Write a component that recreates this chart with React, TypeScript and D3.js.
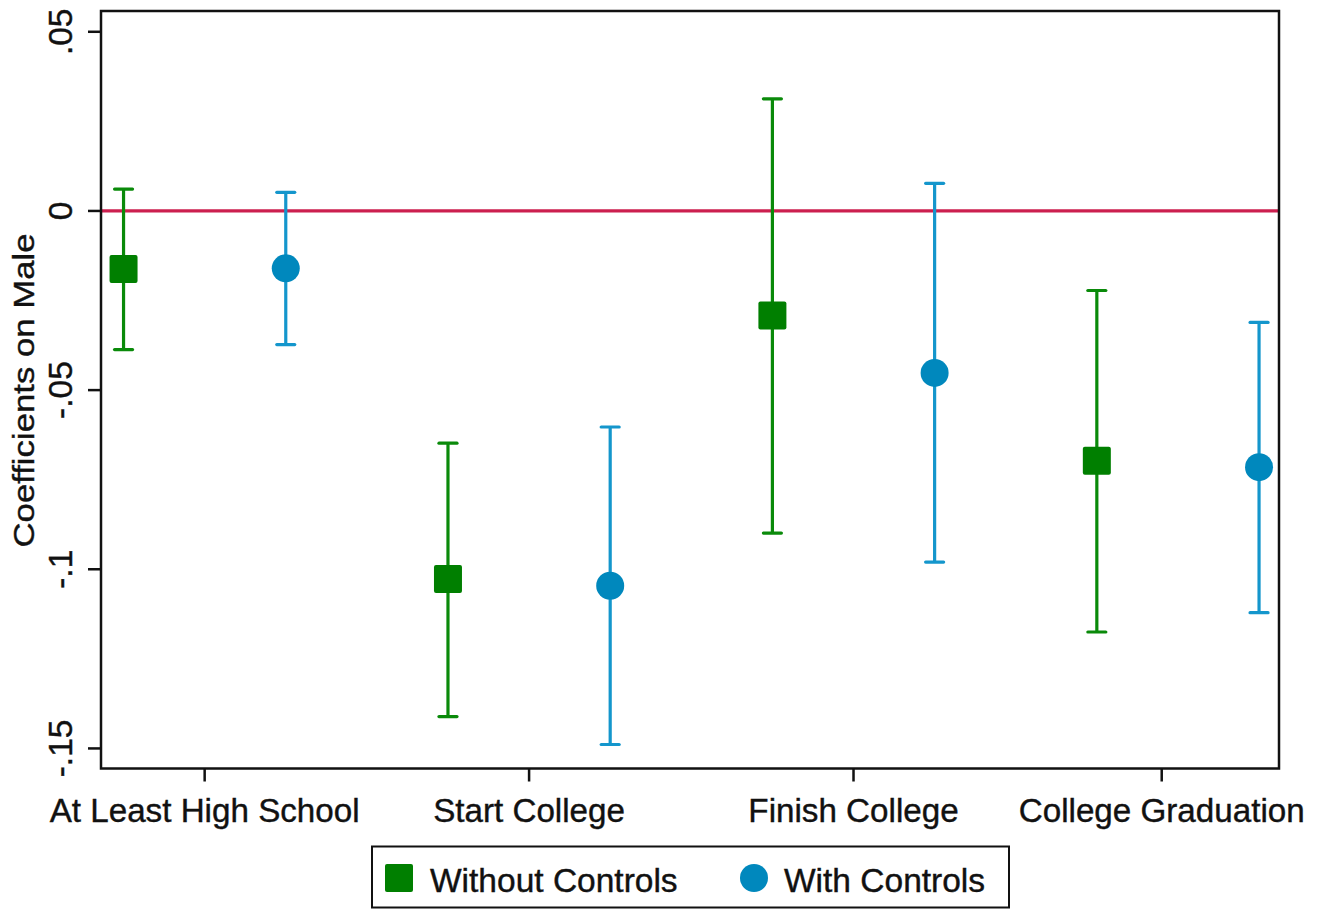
import React from "react";
import * as d3 from "d3";

const categories = ["At Least High School", "Start College", "Finish College", "College Graduation"];
const categoryTickPos = [1.5, 3.5, 5.5, 7.4];

const withoutX = [1, 3, 5, 7];
const withoutCoef = [-0.0162, -0.1027, -0.0292, -0.0697];
const withoutLo = [-0.0387, -0.1411, -0.0899, -0.1175];
const withoutHi = [0.0061, -0.0648, 0.0313, -0.0222];

const withX = [2, 4, 6, 8];
const withCoef = [-0.016, -0.1046, -0.0452, -0.0715];
const withLo = [-0.0373, -0.1489, -0.098, -0.1121];
const withHi = [0.0052, -0.0603, 0.0077, -0.0311];

const yTicks = [0.05, 0, -0.05, -0.1, -0.15];
const yTickLabels = [".05", "0", "-.05", "-.1", "-.15"];

const seriesNames = ["Without Controls", "With Controls"];

const W = 1327;
const H = 910;
const left = 101;
const right = 1279;
const top = 11;
const bottom = 768.5;

const GREEN = "#007f00";
const GREEN_BAR = "#0a8a0a";
const BLUE = "#0088bd";
const BLUE_BAR = "#1496cc";
const RED = "#cc1f4f";
const FONT = "'Liberation Sans', Arial, sans-serif";

export default function App() {
  const x = d3.scaleLinear().domain([0.861, 8.123]).range([left, right]);
  const y = d3.scaleLinear().domain([-0.1556, 0.0558]).range([bottom, top]);

  const capHalf = 9;
  const mk = 14;

  const bars = (xs: number[], lo: number[], hi: number[], color: string, key: string) =>
    xs.map((xv, i) => (
      <g key={key + i} stroke={color} strokeWidth={3.2}>
        <line x1={x(xv)} x2={x(xv)} y1={y(hi[i])} y2={y(lo[i])} />
        <line x1={x(xv) - capHalf} x2={x(xv) + capHalf} y1={y(hi[i])} y2={y(hi[i])} strokeLinecap="round" />
        <line x1={x(xv) - capHalf} x2={x(xv) + capHalf} y1={y(lo[i])} y2={y(lo[i])} strokeLinecap="round" />
      </g>
    ));

  const textStyle = { stroke: "#111", strokeWidth: 0.4 } as React.CSSProperties;

  return (
    <svg
      width={W}
      height={H}
      viewBox={`0 0 ${W} ${H}`}
      style={{ position: "absolute", left: 0, top: 0, background: "#fff" }}
      fontFamily={FONT}
    >
      <rect x={0} y={0} width={W} height={H} fill="#fff" />
      <line x1={left} x2={right} y1={y(0)} y2={y(0)} stroke={RED} strokeWidth={3.2} />

      {bars(withoutX, withoutLo, withoutHi, GREEN_BAR, "wo")}
      {bars(withX, withLo, withHi, BLUE_BAR, "wi")}

      {withoutX.map((xv, i) => (
        <rect
          key={"sq" + i}
          x={x(xv) - mk}
          y={y(withoutCoef[i]) - mk}
          width={mk * 2}
          height={mk * 2}
          rx={2}
          fill={GREEN}
        />
      ))}
      {withX.map((xv, i) => (
        <circle key={"ci" + i} cx={x(xv)} cy={y(withCoef[i])} r={14} fill={BLUE} />
      ))}

      <rect x={left} y={top} width={right - left} height={bottom - top} fill="none" stroke="#111" strokeWidth={2.5} />

      {yTicks.map((t, i) => (
        <g key={"yt" + i}>
          <line x1={left - 13} x2={left} y1={y(t)} y2={y(t)} stroke="#111" strokeWidth={2.5} />
          <text
            transform={`translate(72, ${y(t)}) rotate(-90)`}
            textAnchor="middle"
            fontSize={33.5}
            fill="#111"
            style={textStyle}
          >
            {yTickLabels[i]}
          </text>
        </g>
      ))}

      {categoryTickPos.map((p, i) => (
        <g key={"xt" + i}>
          <line x1={x(p)} x2={x(p)} y1={bottom} y2={bottom + 13} stroke="#111" strokeWidth={2.5} />
          <text x={x(p)} y={822} textAnchor="middle" fontSize={33.2} fill="#111" style={textStyle}>
            {categories[i]}
          </text>
        </g>
      ))}

      <text
        transform={`translate(34, 390.5) rotate(-90)`}
        textAnchor="middle"
        fontSize={30}
        textLength={314}
        lengthAdjust="spacingAndGlyphs"
        fill="#111"
        style={textStyle}
      >
        Coefficients on Male
      </text>

      <rect x={372} y={846.5} width={637} height={61} fill="#fff" stroke="#111" strokeWidth={2} />
      <rect x={385} y={864} width={28} height={28} rx={2} fill={GREEN} />
      <text x={430} y={892} fontSize={33.5} fill="#111" style={textStyle}>
        {seriesNames[0]}
      </text>
      <circle cx={754} cy={878} r={14} fill={BLUE} />
      <text x={784} y={892} fontSize={33.5} fill="#111" style={textStyle}>
        {seriesNames[1]}
      </text>
    </svg>
  );
}
